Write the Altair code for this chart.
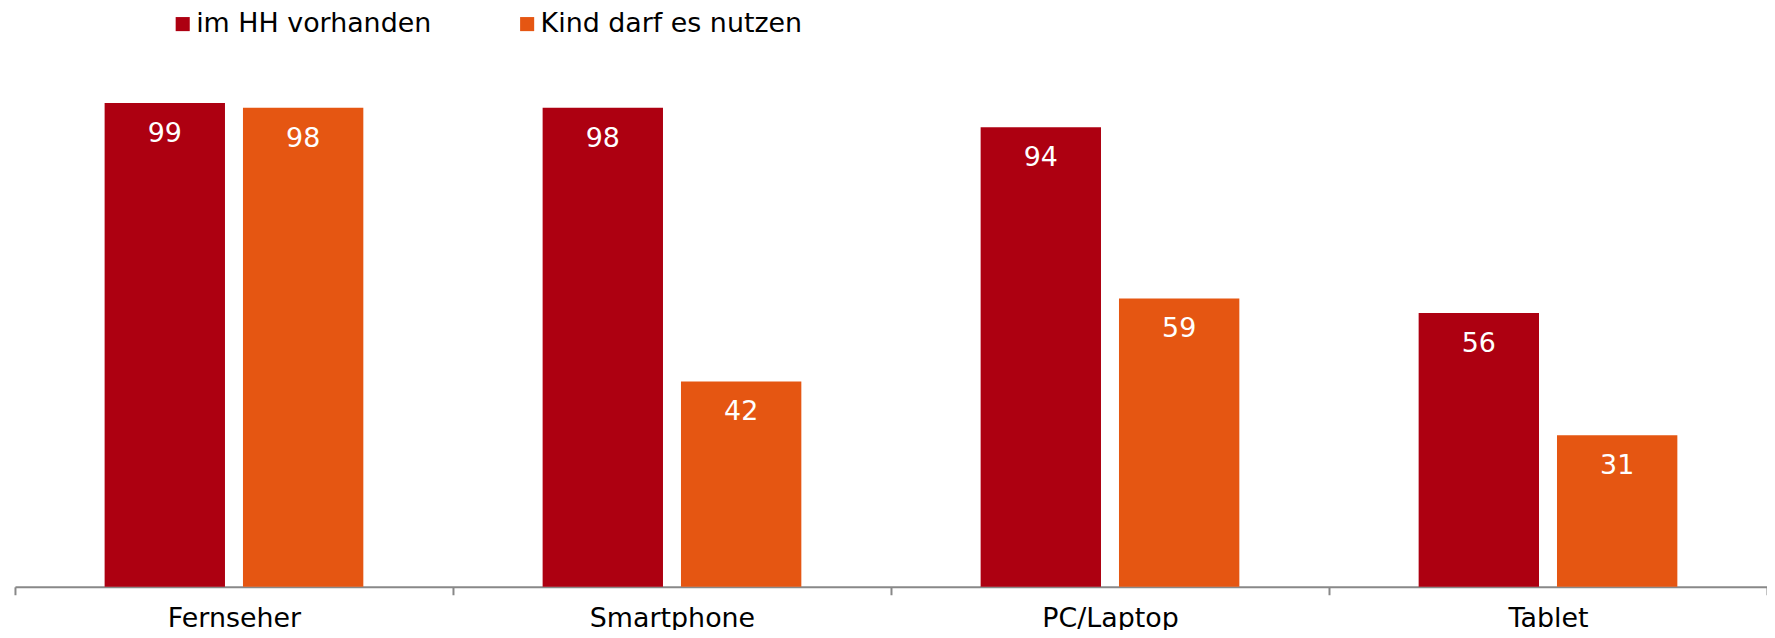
import altair as alt
import pandas as pd

categories = ["Fernseher", "Smartphone", "PC/Laptop", "Tablet"]
series = ["im HH vorhanden", "Kind darf es nutzen"]
vorhanden = [99, 98, 94, 56]
nutzen = [98, 42, 59, 31]
colors = ["#AD0011", "#E55612"]

rows = []
for c, v, n in zip(categories, vorhanden, nutzen):
    rows.append({"Gerät": c, "Serie": series[0], "Wert": v})
    rows.append({"Gerät": c, "Serie": series[1], "Wert": n})
df = pd.DataFrame(rows)

FONT = "DejaVu Sans"
FS = 27

x = alt.X("Gerät:N", sort=categories, title=None,
          scale=alt.Scale(paddingInner=0, paddingOuter=0),
          axis=alt.Axis(labelAngle=0, labelFontSize=FS, labelFont=FONT, labelColor="#000000",
                        domainColor="#888888", domainWidth=2, tickColor="#888888", tickWidth=2,
                        tickSize=8, labelPadding=11, tickBand="extent", labelBaseline="top"))
xo = alt.XOffset("Serie:N", sort=series, scale=alt.Scale(paddingInner=0.13, paddingOuter=0.648))
y = alt.Y("Wert:Q", scale=alt.Scale(domain=[0, 100], nice=False, zero=True), axis=None)

bars = alt.Chart(df).mark_bar().encode(
    x=x, xOffset=xo, y=y,
    color=alt.Color("Serie:N", sort=series,
                    scale=alt.Scale(domain=series, range=colors),
                    legend=alt.Legend(title=None, orient="none", direction="horizontal",
                                      legendX=155, legendY=-88, symbolType="square",
                                      symbolSize=200, symbolStrokeWidth=0, symbolOffset=0,
                                      labelFontSize=FS, labelFont=FONT, labelColor="#000000",
                                      labelOffset=0, columnPadding=82, labelLimit=400)),
)

labels = alt.Chart(df).mark_text(color="white", fontSize=FS, font=FONT, baseline="middle", dy=31).encode(
    x=x, xOffset=xo, y=y, text=alt.Text("Wert:Q")
)

chart = alt.layer(bars, labels).properties(
    width=1760, height=491,
    padding={"left": 7, "top": 89, "right": 0, "bottom": 42},
    autosize=alt.AutoSizeParams(type="none"),
).configure(font=FONT, background="white").configure_view(strokeWidth=0, stroke="transparent")

chart.save("out.html", embed_options={"renderer": "svg", "actions": False})
